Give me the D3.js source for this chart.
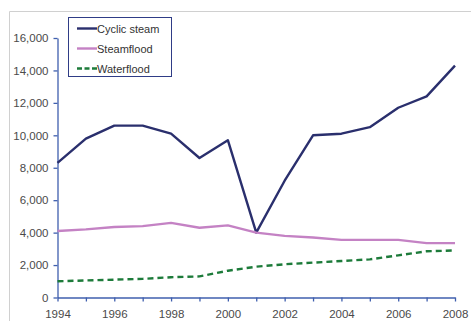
<!DOCTYPE html>
<html><head><meta charset="utf-8">
<script src="https://cdn.jsdelivr.net/npm/d3@7"></script>
<style>
html,body{margin:0;padding:0;background:#fff;}
svg{display:block;font-family:"Liberation Sans",Arial,sans-serif;}
</style></head>
<body>
<svg id="c" width="471" height="321"></svg>
<script>
const years = [1994,1995,1996,1997,1998,1999,2000,2001,2002,2003,2004,2005,2006,2007,2008];
const cyclicSteam = [8300,9800,10600,10600,10100,8600,9700,4000,7200,10000,10100,10500,11700,12400,14300];
const steamflood = [4100,4200,4350,4400,4600,4300,4450,4000,3800,3700,3550,3550,3550,3350,3350];
const waterflood = [1000,1050,1100,1150,1250,1300,1650,1900,2050,2150,2250,2350,2600,2850,2900];
const seriesNames = ["Cyclic steam","Steamflood","Waterflood"];
const yTicks = [0,2000,4000,6000,8000,10000,12000,14000,16000];
const xTickLabels = [1994,1996,1998,2000,2002,2004,2006,2008];

const svg = d3.select("#c");
// frame
svg.append("line").attr("x1",9.5).attr("x2",471).attr("y1",11.5).attr("y2",11.5).attr("stroke","#d0d0d0");
svg.append("line").attr("x1",9.5).attr("x2",9.5).attr("y1",11.5).attr("y2",321).attr("stroke","#d0d0d0");

const x = d3.scaleLinear().domain([1994,2008]).range([57.5,455]);
const y = d3.scaleLinear().domain([0,16000]).range([297.5,38]);
const axisColor = "#3f5fae";

const yAxis = svg.append("g").attr("transform","translate(57.5,0)")
  .call(d3.axisLeft(y).tickValues(yTicks).tickFormat(d3.format(",")).tickSize(4).tickSizeOuter(0));
const xAxis = svg.append("g").attr("transform","translate(0,297.5)")
  .call(d3.axisBottom(x).tickValues(years).tickFormat(d => xTickLabels.includes(d) ? d : "").tickSize(4).tickSizeOuter(0));
[yAxis,xAxis].forEach(g=>{
  g.selectAll("path,line").attr("stroke",axisColor).attr("stroke-width",1.3);
  g.selectAll("text").attr("fill","#4a4a4a").attr("font-size","11.5px").attr("font-family","Liberation Sans, Arial, sans-serif");
});
yAxis.selectAll("text").attr("x",-9);
xAxis.selectAll("text").attr("y",12);

const line = d3.line().x((d,i)=>x(years[i])).y(d=>y(d));
const styles = [
  {data:cyclicSteam,color:"#2a2f6d",w:2.4,dash:null},
  {data:steamflood,color:"#c482c4",w:2.4,dash:null},
  {data:waterflood,color:"#1d7b3a",w:2.4,dash:"6,4"}
];
styles.forEach(s=>{
  svg.append("path").attr("d",line(s.data)).attr("fill","none")
    .attr("stroke",s.color).attr("stroke-width",s.w).attr("stroke-linejoin","round")
    .attr("stroke-dasharray",s.dash);
});

// legend
const lg = svg.append("g");
lg.append("rect").attr("x",68.5).attr("y",17.5).attr("width",103).attr("height",59)
  .attr("fill","#fff").attr("stroke","#2f3c86").attr("stroke-width",1);
seriesNames.forEach((n,i)=>{
  const yy = 28.5 + i*20;
  lg.append("line").attr("x1",77).attr("x2",97).attr("y1",yy).attr("y2",yy)
    .attr("stroke",styles[i].color).attr("stroke-width",2.4).attr("stroke-dasharray",i===2?"5,2.5":null);
  lg.append("text").attr("x",97).attr("y",yy+4).text(n)
    .attr("font-size","11px").attr("fill","#333");
});
</script>
</body></html>
